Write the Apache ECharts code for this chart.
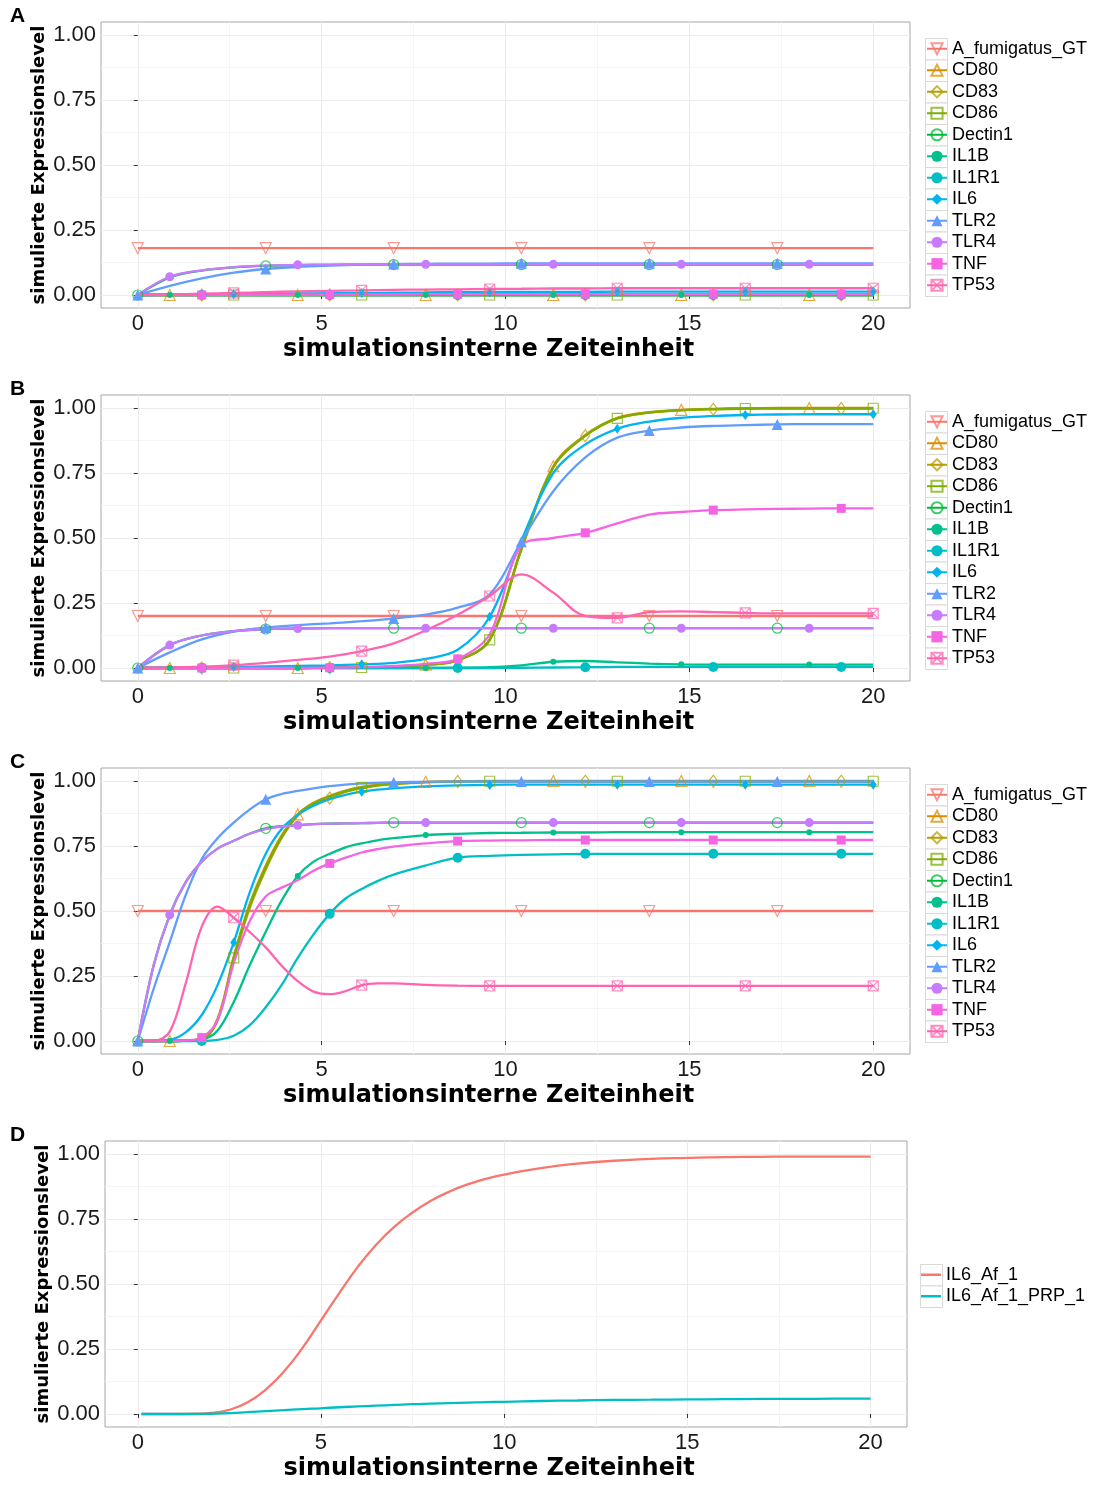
<!DOCTYPE html>
<html>
<head>
<meta charset="utf-8">
<title>Simulierte Expressionslevel</title>
<script src="https://cdn.jsdelivr.net/npm/echarts@6/dist/echarts.min.js"></script>
<style>html,body{margin:0;padding:0;background:#fff}</style>
</head>
<body>
<div id="main" style="width:1097px;height:1488px"></div>
<script>
// zeitpunkte (marker an jedem 4. punkt des groben rasters)
var t = [0, 0.87, 1.74, 2.61, 3.48, 4.35, 5.22, 6.09, 6.96, 7.83, 8.70, 9.57, 10.43, 11.30, 12.17, 13.04, 13.91, 14.78, 15.65, 16.52, 17.39, 18.26, 19.13, 20];
// panel C: feineres raster am anfang
var tC = [0, 0.43, 0.87, 1.30, 1.74, 2.17, 2.61, 3.04, 3.48, 3.91, 4.35, 4.78, 5.22, 5.65, 6.09, 6.52, 6.96, 7.83, 8.70, 9.57, 10.43, 11.30, 12.17, 13.04, 13.91, 14.78, 15.65, 16.52, 17.39, 18.26, 19.13, 20];
var genes = ['A_fumigatus_GT', 'CD80', 'CD83', 'CD86', 'Dectin1', 'IL1B', 'IL1R1', 'IL6', 'TLR2', 'TLR4', 'TNF', 'TP53'];

// Panel A
var A_GT     = [0.18, 0.18, 0.18, 0.18, 0.18, 0.18, 0.18, 0.18, 0.18, 0.18, 0.18, 0.18, 0.18, 0.18, 0.18, 0.18, 0.18, 0.18, 0.18, 0.18, 0.18, 0.18, 0.18, 0.18];
var A_CD80   = [0, 0, 0, 0, 0, 0, 0, 0, 0, 0, 0, 0, 0, 0, 0, 0, 0, 0, 0, 0, 0, 0, 0, 0];
var A_CD83   = [0, 0, 0, 0, 0, 0, 0, 0, 0, 0, 0, 0, 0, 0, 0, 0, 0, 0, 0, 0, 0, 0, 0, 0];
var A_CD86   = [0, 0, 0, 0, 0, 0, 0, 0, 0, 0, 0, 0, 0, 0, 0, 0, 0, 0, 0, 0, 0, 0, 0, 0];
var A_Dectin1 = [0, 0.068, 0.094, 0.106, 0.112, 0.115, 0.116, 0.117, 0.117, 0.117, 0.117, 0.117, 0.117, 0.117, 0.117, 0.117, 0.117, 0.117, 0.117, 0.117, 0.117, 0.117, 0.117, 0.117];
var A_IL1B   = [0, 0, 0, 0, 0, 0, 0, 0, 0, 0, 0, 0, 0, 0, 0, 0, 0, 0, 0, 0, 0, 0, 0, 0];
var A_IL1R1  = [0, 0, 0, 0, 0, 0, 0, 0, 0, 0, 0, 0, 0, 0, 0, 0, 0, 0, 0, 0, 0, 0, 0, 0];
var A_IL6    = [0, 0.001, 0.002, 0.003, 0.005, 0.006, 0.007, 0.008, 0.009, 0.01, 0.011, 0.011, 0.012, 0.012, 0.012, 0.013, 0.013, 0.013, 0.013, 0.013, 0.013, 0.013, 0.013, 0.013];
var A_TLR2   = [0, 0.035, 0.064, 0.086, 0.1, 0.108, 0.113, 0.117, 0.119, 0.12, 0.121, 0.121, 0.122, 0.122, 0.122, 0.122, 0.122, 0.122, 0.122, 0.122, 0.122, 0.122, 0.122, 0.122];
var A_TLR4   = [0, 0.07, 0.095, 0.107, 0.113, 0.116, 0.117, 0.118, 0.118, 0.118, 0.118, 0.118, 0.118, 0.118, 0.118, 0.118, 0.118, 0.118, 0.118, 0.118, 0.118, 0.118, 0.118, 0.118];
var A_TNF    = [0, 0, 0, 0.001, 0.001, 0.001, 0.002, 0.002, 0.002, 0.003, 0.003, 0.003, 0.003, 0.003, 0.003, 0.003, 0.003, 0.003, 0.003, 0.003, 0.003, 0.003, 0.003, 0.003];
var A_TP53   = [0, 0.002, 0.005, 0.008, 0.011, 0.014, 0.016, 0.018, 0.02, 0.021, 0.022, 0.023, 0.024, 0.025, 0.025, 0.026, 0.026, 0.026, 0.026, 0.026, 0.026, 0.026, 0.026, 0.026];

// Panel B
var B_GT     = [0.2, 0.2, 0.2, 0.2, 0.2, 0.2, 0.2, 0.2, 0.2, 0.2, 0.2, 0.2, 0.2, 0.2, 0.2, 0.2, 0.2, 0.2, 0.2, 0.2, 0.2, 0.2, 0.2, 0.2];
var B_CD80   = [0, 0, 0, 0, 0, 0, 0.001, 0.002, 0.005, 0.013, 0.03, 0.11, 0.46, 0.776, 0.896, 0.962, 0.984, 0.993, 0.997, 0.999, 1, 1, 1, 1];
var B_CD83   = [0, 0, 0, 0, 0, 0, 0.001, 0.002, 0.005, 0.012, 0.029, 0.108, 0.455, 0.772, 0.893, 0.96, 0.982, 0.991, 0.995, 0.997, 0.998, 0.998, 0.998, 0.998];
var B_CD86   = [0, 0, 0, 0, 0, 0, 0.001, 0.002, 0.005, 0.012, 0.029, 0.108, 0.455, 0.772, 0.893, 0.96, 0.982, 0.992, 0.996, 0.998, 0.999, 0.999, 0.999, 0.999];
var B_Dectin1 = [0, 0.088, 0.125, 0.142, 0.15, 0.152, 0.153, 0.153, 0.153, 0.153, 0.153, 0.153, 0.153, 0.153, 0.153, 0.153, 0.153, 0.153, 0.153, 0.153, 0.153, 0.153, 0.153, 0.153];
var B_IL1B   = [0, 0, 0, 0, 0, 0, 0, 0, 0, 0, 0.001, 0.003, 0.01, 0.024, 0.027, 0.022, 0.017, 0.014, 0.013, 0.013, 0.013, 0.013, 0.013, 0.013];
var B_IL1R1  = [0, 0, 0, 0, 0, 0, 0, 0, 0, 0, 0, 0, 0.001, 0.002, 0.003, 0.004, 0.004, 0.004, 0.004, 0.004, 0.004, 0.004, 0.004, 0.004];
var B_IL6    = [0, 0.001, 0.002, 0.004, 0.006, 0.008, 0.01, 0.014, 0.02, 0.035, 0.07, 0.197, 0.49, 0.75, 0.86, 0.92, 0.948, 0.962, 0.969, 0.973, 0.975, 0.976, 0.976, 0.976];
var B_TLR2   = [0, 0.06, 0.11, 0.14, 0.156, 0.165, 0.172, 0.18, 0.19, 0.205, 0.232, 0.283, 0.486, 0.68, 0.81, 0.886, 0.913, 0.925, 0.931, 0.934, 0.937, 0.938, 0.938, 0.938];
var B_TLR4   = [0, 0.088, 0.125, 0.142, 0.15, 0.152, 0.153, 0.153, 0.153, 0.153, 0.153, 0.153, 0.153, 0.153, 0.153, 0.153, 0.153, 0.153, 0.153, 0.153, 0.153, 0.153, 0.153, 0.153];
var B_TNF    = [0, 0, 0, 0, 0, 0, 0.001, 0.003, 0.008, 0.016, 0.035, 0.13, 0.47, 0.5, 0.52, 0.556, 0.59, 0.6, 0.607, 0.61, 0.612, 0.613, 0.614, 0.614];
var B_TP53   = [0, 0.002, 0.005, 0.011, 0.02, 0.031, 0.044, 0.065, 0.095, 0.145, 0.205, 0.277, 0.36, 0.29, 0.2, 0.193, 0.215, 0.218, 0.215, 0.212, 0.21, 0.21, 0.21, 0.21];

// Panel C (werte zu tC)
var C_GT     = [0.5, 0.5, 0.5, 0.5, 0.5, 0.5, 0.5, 0.5, 0.5, 0.5, 0.5, 0.5, 0.5, 0.5, 0.5, 0.5, 0.5, 0.5, 0.5, 0.5, 0.5, 0.5, 0.5, 0.5, 0.5, 0.5, 0.5, 0.5, 0.5, 0.5, 0.5, 0.5];
var C_CD80   = [0, 0, 0, 0.002, 0.008, 0.085, 0.325, 0.525, 0.675, 0.79, 0.872, 0.916, 0.943, 0.963, 0.977, 0.986, 0.991, 0.997, 0.999, 1, 1, 1, 1, 1, 1, 1, 1, 1, 1, 1, 1, 1];
var C_CD83   = [0, 0, 0, 0.002, 0.007, 0.08, 0.31, 0.51, 0.66, 0.78, 0.866, 0.912, 0.935, 0.958, 0.972, 0.982, 0.988, 0.995, 0.998, 0.999, 0.999, 0.999, 0.999, 0.999, 0.999, 0.999, 0.999, 0.999, 0.999, 0.999, 0.999, 0.999];
var C_CD86   = [0, 0, 0, 0.002, 0.007, 0.082, 0.32, 0.52, 0.668, 0.785, 0.87, 0.914, 0.94, 0.961, 0.975, 0.984, 0.99, 0.996, 0.998, 0.999, 0.999, 0.999, 0.999, 0.999, 0.999, 0.999, 0.999, 0.999, 0.999, 0.999, 0.999, 0.999];
var C_Dectin1 = [0, 0.29, 0.485, 0.61, 0.69, 0.74, 0.77, 0.797, 0.818, 0.826, 0.83, 0.834, 0.836, 0.837, 0.838, 0.839, 0.84, 0.84, 0.84, 0.84, 0.84, 0.84, 0.84, 0.84, 0.84, 0.84, 0.84, 0.84, 0.84, 0.84, 0.84, 0.84];
var C_IL1B   = [0, 0, 0, 0.001, 0.005, 0.04, 0.15, 0.29, 0.42, 0.54, 0.635, 0.69, 0.72, 0.745, 0.76, 0.772, 0.78, 0.792, 0.797, 0.8, 0.801, 0.802, 0.802, 0.803, 0.803, 0.803, 0.803, 0.803, 0.803, 0.803, 0.803, 0.803];
var C_IL1R1  = [0, 0, 0, 0, 0, 0.004, 0.02, 0.06, 0.13, 0.215, 0.32, 0.41, 0.489, 0.548, 0.585, 0.615, 0.64, 0.675, 0.705, 0.712, 0.716, 0.718, 0.72, 0.72, 0.72, 0.72, 0.72, 0.72, 0.72, 0.72, 0.72, 0.72];
var C_IL6    = [0, 0, 0.004, 0.033, 0.1, 0.215, 0.379, 0.57, 0.72, 0.815, 0.87, 0.905, 0.93, 0.947, 0.959, 0.967, 0.972, 0.979, 0.983, 0.985, 0.986, 0.986, 0.986, 0.986, 0.986, 0.986, 0.986, 0.986, 0.986, 0.986, 0.986, 0.986];
var C_TLR2   = [0, 0.2, 0.38, 0.56, 0.7, 0.78, 0.84, 0.89, 0.93, 0.95, 0.962, 0.972, 0.98, 0.986, 0.99, 0.993, 0.995, 0.997, 0.998, 0.998, 0.998, 0.998, 0.998, 0.998, 0.998, 0.998, 0.998, 0.998, 0.998, 0.998, 0.998, 0.998];
var C_TLR4   = [0, 0.29, 0.485, 0.61, 0.69, 0.74, 0.77, 0.797, 0.815, 0.825, 0.83, 0.834, 0.836, 0.837, 0.838, 0.839, 0.84, 0.84, 0.84, 0.84, 0.84, 0.84, 0.84, 0.84, 0.84, 0.84, 0.84, 0.84, 0.84, 0.84, 0.84, 0.84];
var C_TNF    = [0, 0, 0, 0.002, 0.013, 0.08, 0.3, 0.46, 0.556, 0.59, 0.618, 0.655, 0.683, 0.705, 0.725, 0.738, 0.748, 0.76, 0.769, 0.771, 0.772, 0.773, 0.773, 0.773, 0.773, 0.773, 0.773, 0.773, 0.773, 0.773, 0.773, 0.773];
var C_TP53   = [0, 0, 0.036, 0.22, 0.44, 0.517, 0.474, 0.42, 0.36, 0.29, 0.23, 0.19, 0.18, 0.192, 0.215, 0.222, 0.222, 0.216, 0.213, 0.212, 0.212, 0.212, 0.212, 0.212, 0.212, 0.212, 0.212, 0.212, 0.212, 0.212, 0.212, 0.212];

// Panel D
var tD = [0.1, 0.5, 1, 1.5, 2, 2.5, 3, 3.5, 4, 4.5, 5, 5.5, 6, 6.5, 7, 7.5, 8, 8.5, 9, 9.5, 10, 11, 12, 13, 14, 15, 16, 17, 18, 19, 20];
var D_IL6_Af_1       = [0, 0, 0, 0.001, 0.004, 0.016, 0.045, 0.095, 0.165, 0.255, 0.36, 0.465, 0.565, 0.65, 0.72, 0.775, 0.82, 0.855, 0.883, 0.904, 0.921, 0.946, 0.963, 0.974, 0.981, 0.985, 0.988, 0.989, 0.99, 0.99, 0.99];
var D_IL6_Af_1_PRP_1 = [0, 0, 0, 0, 0.001, 0.003, 0.007, 0.011, 0.015, 0.019, 0.022, 0.026, 0.029, 0.032, 0.035, 0.038, 0.04, 0.042, 0.044, 0.046, 0.047, 0.05, 0.052, 0.054, 0.055, 0.056, 0.057, 0.058, 0.058, 0.059, 0.059];

var colors = ['#F8766D', '#DE8C00', '#B79F00', '#7CAE00', '#00BA38', '#00C08B', '#00BFC4', '#00B4F0', '#619CFF', '#C77CFF', '#F564E3', '#FF64B0'];
var crossSquare = 'path://M0,0H10V10H0ZM0,0L10,10M10,0L0,10';
var shapes = [
    {symbol: 'triangle', size: 11, rotate: 180, open: true},
    {symbol: 'triangle', size: 11, open: true},
    {symbol: 'diamond', size: [9, 12], open: true},
    {symbol: 'rect', size: 10, open: true},
    {symbol: 'circle', size: 10, open: true},
    {symbol: 'circle', size: 6},
    {symbol: 'circle', size: 10},
    {symbol: 'diamond', size: [7, 10]},
    {symbol: 'triangle', size: 11},
    {symbol: 'circle', size: 9},
    {symbol: 'rect', size: 9},
    {symbol: crossSquare, size: 10, open: true}
];

var panelData = [
    {times: t, vals: [A_GT, A_CD80, A_CD83, A_CD86, A_Dectin1, A_IL1B, A_IL1R1, A_IL6, A_TLR2, A_TLR4, A_TNF, A_TP53]},
    {times: t, vals: [B_GT, B_CD80, B_CD83, B_CD86, B_Dectin1, B_IL1B, B_IL1R1, B_IL6, B_TLR2, B_TLR4, B_TNF, B_TP53]},
    {times: tC, vals: [C_GT, C_CD80, C_CD83, C_CD86, C_Dectin1, C_IL1B, C_IL1R1, C_IL6, C_TLR2, C_TLR4, C_TNF, C_TP53]}
];
var panelTops = [22, 395, 768, 1141];
var letters = ['A', 'B', 'C', 'D'];

var tickFont = {fontFamily: 'Liberation Sans', fontSize: 22, color: '#1a1a1a'};
var titleFont = {fontFamily: 'DejaVu Sans', fontWeight: 'bold', color: '#000'};
var legendFont = {fontFamily: 'Liberation Sans', fontSize: 18, color: '#000', lineHeight: 21.5};
var step = 20 / 23;

// marker nur auf dem groben raster, jede serie mit eigenem versatz
function markedData(times, vals, offset) {
    return vals.map(function (v, k) {
        var c = Math.round(times[k] / step);
        var onGrid = Math.abs(c * step - times[k]) < 0.01;
        return (onGrid && c % 4 === offset) ? [times[k], v] : {value: [times[k], v], symbol: 'none'};
    });
}

var grids = [], xAxes = [], yAxes = [], series = [], legends = [], graphics = [];

function legendBoxes(left, firstTop, n) {
    for (var j = 0; j < n; j++) {
        graphics.push({
            type: 'rect', left: left, top: firstTop + j * 21.5, z: 1,
            shape: {width: 22, height: 21.5},
            style: {fill: '#fff', stroke: '#d9d9d9', lineWidth: 1}
        });
    }
}

panelTops.forEach(function (top, p) {
    var isD = p === 3;
    grids.push({left: isD ? 105 : 101, top: top, width: isD ? 802 : 809, height: 286,
        show: true, borderColor: '#a6a6a6', borderWidth: 1, backgroundColor: '#fff', outerBoundsMode: 'none'});
    var xmin = isD ? -0.895 : -1, xmax = isD ? 20.995 : 21;
    xAxes.push({
        gridIndex: p, type: 'value', min: xmin, max: xmax,
        axisLine: {show: false},
        axisTick: {customValues: [0, 5, 10, 15, 20], length: 4, lineStyle: {color: '#333'}},
        axisLabel: Object.assign({customValues: [0, 5, 10, 15, 20], margin: 5}, tickFont),
        splitLine: {show: true, lineStyle: {color: '#ebebeb', width: 1}},
        name: 'simulationsinterne Zeiteinheit', nameLocation: 'middle', nameGap: 30, nameMoveOverlap: false,
        nameTextStyle: Object.assign({fontSize: 24, padding: [0, 34, 0, 0]}, titleFont)
    });
    xAxes.push({
        gridIndex: p, type: 'value', min: xmin, max: xmax, position: 'top',
        axisLine: {show: false}, axisLabel: {show: false},
        axisTick: {show: false, customValues: [2.5, 7.5, 12.5, 17.5]},
        splitLine: {show: true, lineStyle: {color: '#f4f4f4', width: 1}}
    });
    yAxes.push({
        gridIndex: p, type: 'value', min: -0.05, max: 1.05,
        axisLine: {show: false},
        axisTick: {customValues: [0, 0.25, 0.5, 0.75, 1], length: 4, lineStyle: {color: '#333'}},
        axisLabel: Object.assign({customValues: [0, 0.25, 0.5, 0.75, 1], margin: 5,
            formatter: function (v) { return v.toFixed(2); }}, tickFont),
        splitLine: {show: true, lineStyle: {color: '#ebebeb', width: 1}},
        name: 'simulierte Expressionslevel', nameLocation: 'middle', nameRotate: 90, nameGap: 53,
        nameMoveOverlap: false,
        nameTextStyle: Object.assign({fontSize: 18}, titleFont)
    });
    yAxes.push({
        gridIndex: p, type: 'value', min: -0.05, max: 1.05, position: 'right',
        axisLine: {show: false}, axisLabel: {show: false},
        axisTick: {show: false, customValues: [0.125, 0.375, 0.625, 0.875]},
        splitLine: {show: true, lineStyle: {color: '#f4f4f4', width: 1}}
    });
    graphics.push({
        type: 'text', left: 10, top: top - 16, z: 10,
        style: {text: letters[p], font: 'bold 21px "Liberation Sans"', fill: '#000'}
    });
});

// panels A-C
panelData.forEach(function (set, p) {
    set.vals.forEach(function (vals, i) {
        var sh = shapes[i];
        series.push({
            name: genes[i], type: 'line', xAxisIndex: 2 * p, yAxisIndex: 2 * p,
            data: markedData(set.times, vals, i % 4),
            smooth: 0.35, clip: false, showSymbol: true,
            symbol: sh.symbol, symbolSize: sh.size, symbolRotate: sh.rotate || 0,
            lineStyle: {color: colors[i], width: 2.3},
            itemStyle: sh.open
                ? {color: 'transparent', borderColor: colors[i], borderWidth: 1.2, opacity: 0.75}
                : {color: colors[i], borderWidth: 0},
            emphasis: {disabled: true}
        });
    });
    legends.push({
        orient: 'vertical', left: 926, top: panelTops[p] + 16, padding: 0,
        itemWidth: 20, itemHeight: 14, itemGap: 0, selectedMode: false,
        textStyle: legendFont, data: genes
    });
    legendBoxes(925, panelTops[p] + 16, genes.length);
});

// panel D
var dNames = ['IL6_Af_1', 'IL6_Af_1_PRP_1'];
var dColors = ['#F8766D', '#00BFC4'];
[D_IL6_Af_1, D_IL6_Af_1_PRP_1].forEach(function (vals, i) {
    series.push({
        name: dNames[i], type: 'line', xAxisIndex: 6, yAxisIndex: 6,
        data: vals.map(function (v, k) { return [tD[k], v]; }),
        smooth: 0.5, symbol: 'none', clip: false,
        lineStyle: {color: dColors[i], width: 2.3},
        itemStyle: {color: dColors[i]},
        emphasis: {disabled: true}
    });
});
legends.push({
    orient: 'vertical', left: 921, top: 1264, padding: 0,
    itemWidth: 20, itemHeight: 2.5, itemGap: 0, selectedMode: false, icon: 'rect',
    textStyle: legendFont, data: dNames
});
legendBoxes(920, 1264, 2);

var myChart = echarts.init(document.getElementById('main'));
myChart.setOption({
    animation: false,
    backgroundColor: '#fff',
    grid: grids,
    xAxis: xAxes,
    yAxis: yAxes,
    legend: legends,
    graphic: graphics,
    series: series
});
</script>
</body>
</html>
